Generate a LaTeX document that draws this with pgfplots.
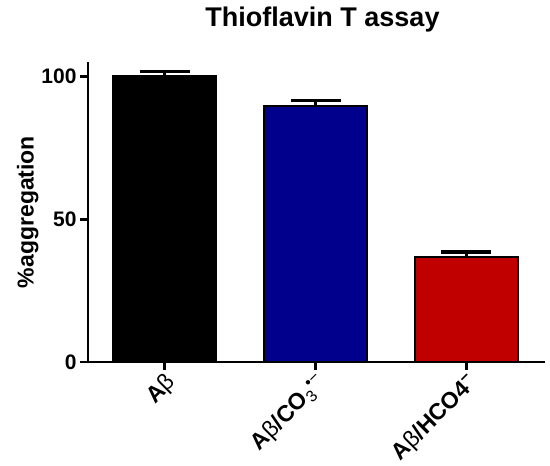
\documentclass[border=0pt]{standalone}
\usepackage{fontspec}
\setmainfont{Liberation Sans}
\usepackage{pgfplots}
\pgfplotsset{compat=1.18}
\definecolor{barnavy}{RGB}{0,0,140}
\definecolor{barred}{RGB}{192,0,0}
\newcommand{\lab}{\fontsize{21}{24}\selectfont\bfseries}
\newcommand{\xlab}{\fontsize{23}{26}\selectfont\bfseries}
\begin{document}
\begin{tikzpicture}
\begin{axis}[
  name=ax,
  scale only axis,
  width=457pt, height=300pt,
  xmin=-0.507, xmax=2.52,
  ymin=0, ymax=105,
  axis lines=left,
  axis line style={line width=2.8pt, -},
  xtick={0,1,2},
  xticklabels={A{\mdseries β}, A{\mdseries β}/CO\textsubscript{\mdseries 3}\textsuperscript{\mdseries •−}, A{\mdseries β}/HCO4\textsuperscript{−}},
  ytick={0,50,100},
  tick style={line width=2.8pt, black},
  tick align=outside,
  major tick length=8pt,
  xticklabel style={rotate=45, anchor=north east, font=\xlab, inner sep=1pt},
  yticklabel style={font=\lab},
  /pgf/number format/assume math mode=true,
  ylabel={\%aggregation},
  ylabel style={font=\fontsize{23}{26}\selectfont\bfseries, yshift=-4pt},
  title={Thioflavin T assay},
  title style={font=\fontsize{27}{30}\selectfont\bfseries, at={(0.5,1)}, anchor=center, xshift=6pt, yshift=36pt},
  clip=false,
]
\addplot[ybar, bar shift=0pt, bar width=103pt, fill=black, draw=black, line width=2pt,
  error bars/.cd, y dir=plus, y explicit, error mark=|,
  error bar style={line width=3.5pt, black},
  error mark options={line width=3.5pt, mark size=25pt, black}]
  coordinates {(0,100) +- (0,1.7)};
\addplot[ybar, bar shift=0pt, bar width=103pt, fill=barnavy, draw=black, line width=2pt,
  error bars/.cd, y dir=plus, y explicit, error mark=|,
  error bar style={line width=3.5pt, black},
  error mark options={line width=3.5pt, mark size=25pt, black}]
  coordinates {(1,89.6) +- (0,2.0)};
\addplot[ybar, bar shift=0pt, bar width=103pt, fill=barred, draw=black, line width=2pt,
  error bars/.cd, y dir=plus, y explicit, error mark=|,
  error bar style={line width=3.5pt, black},
  error mark options={line width=3.5pt, mark size=25pt, black}]
  coordinates {(2,36.7) +- (0,1.8)};
\coordinate (o) at (rel axis cs:0,0);
\end{axis}
\pgfresetboundingbox
\path[use as bounding box] ([shift={(-88pt,-104pt)}]o) rectangle ([shift={(462pt,362pt)}]o);
\end{tikzpicture}
\end{document}
